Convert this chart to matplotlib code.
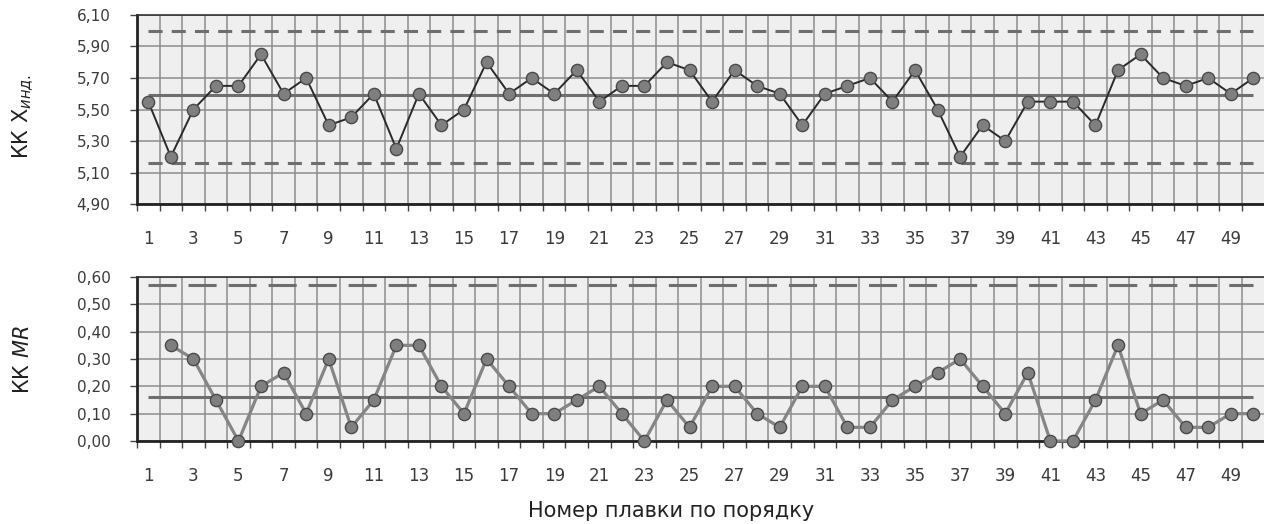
import matplotlib
matplotlib.use("Agg")
import matplotlib.pyplot as plt
import numpy as np

# ---- data ----
melt_no = list(range(1, 51))
x_ind = [5.55, 5.20, 5.50, 5.65, 5.65, 5.85, 5.60, 5.70, 5.40, 5.45,
         5.60, 5.25, 5.60, 5.40, 5.50, 5.80, 5.60, 5.70, 5.60, 5.75,
         5.55, 5.65, 5.65, 5.80, 5.75, 5.55, 5.75, 5.65, 5.60, 5.40,
         5.60, 5.65, 5.70, 5.55, 5.75, 5.50, 5.20, 5.40, 5.30, 5.55,
         5.55, 5.55, 5.40, 5.75, 5.85, 5.70, 5.65, 5.70, 5.60, 5.70]
mr_no = list(range(2, 51))
mr = [0.35, 0.30, 0.15, 0.00, 0.20, 0.25, 0.10, 0.30, 0.05,
      0.15, 0.35, 0.35, 0.20, 0.10, 0.30, 0.20, 0.10, 0.10, 0.15,
      0.20, 0.10, 0.00, 0.15, 0.05, 0.20, 0.20, 0.10, 0.05, 0.20,
      0.20, 0.05, 0.05, 0.15, 0.20, 0.25, 0.30, 0.20, 0.10, 0.25,
      0.00, 0.00, 0.15, 0.35, 0.10, 0.15, 0.05, 0.05, 0.10, 0.10]
x_cl, x_ucl, x_lcl = 5.59, 6.00, 5.16
mr_cl, mr_ucl = 0.16, 0.57
x_yticks = [4.90, 5.10, 5.30, 5.50, 5.70, 5.90, 6.10]
mr_yticks = [0.00, 0.10, 0.20, 0.30, 0.40, 0.50, 0.60]
x_ticklabels = [str(i) for i in range(1, 51, 2)]
ylabel_top = 'КК $\\mathregular{X}_{\\mathit{инд.}}$'
ylabel_bot = 'КК $\\mathit{MR}$'
xlabel = 'Номер плавки по порядку'

plt.rcParams['font.family'] = ['DejaVu Sans']
plt.rcParams['mathtext.fontset'] = 'dejavusans'

W, H = 1264, 524
fig = plt.figure(figsize=(W / 100, H / 100), dpi=100)

def frac_axes(l, t, r, b):
    return fig.add_axes([l / W, 1 - b / H, (r - l) / W, (b - t) / H])

ax1 = frac_axes(137, 15, 1264.6, 204)
ax2 = frac_axes(137, 277, 1264.6, 441)

grid_c = '#8c8c8c'
bg = '#efefef'
txt_c = '#3a3a3a'
lim_c = '#6e6e6e'

def style(ax, yticks, fmt):
    ax.set_facecolor(bg)
    ax.set_xlim(0.5, 50.5)
    ax.set_ylim(yticks[0], yticks[-1])
    ax.set_yticks(yticks)
    ax.set_yticklabels([fmt.format(v).replace('.', ',') for v in yticks])
    ax.set_xticks(list(range(1, 51, 2)))
    ax.set_xticklabels(x_ticklabels)
    ax.set_xticks(np.arange(0.5, 51, 1.0), minor=True)
    ax.tick_params(axis='x', which='major', length=0, pad=19, labelsize=12,
                   labelcolor=txt_c)
    ax.tick_params(axis='x', which='minor', length=5, width=1, color='#444444',
                   direction='out')
    ax.tick_params(axis='y', which='major', length=5, width=1, color='#444444',
                   direction='out', pad=14, labelsize=11, labelcolor=txt_c)
    ax.grid(True, which='minor', axis='x', color=grid_c, lw=1.1, zorder=0)
    ax.grid(True, which='major', axis='y', color=grid_c, lw=1.1, zorder=0)
    ax.grid(False, which='major', axis='x')
    ax.set_axisbelow(True)
    for s in ['left', 'bottom']:
        ax.spines[s].set_linewidth(2.0)
        ax.spines[s].set_color('#222222')
    ax.spines['top'].set_linewidth(1.2)
    ax.spines['top'].set_color('#333333')
    ax.spines['right'].set_visible(False)

style(ax1, x_yticks, '{:.2f}')
style(ax2, mr_yticks, '{:.2f}')

# top chart
ax1.plot([melt_no[0], melt_no[-1]], [x_cl, x_cl], color=lim_c, lw=2.2, zorder=2,
         solid_capstyle='butt')
ax1.plot([melt_no[0], melt_no[-1]], [x_ucl, x_ucl], color=lim_c, lw=2.2, zorder=2,
         dashes=(4.6, 3.0), dash_capstyle='butt')
ax1.plot([melt_no[0], melt_no[-1]], [x_lcl, x_lcl], color=lim_c, lw=2.2, zorder=2,
         dashes=(4.6, 3.0), dash_capstyle='butt')
ax1.plot(melt_no, x_ind, color='#2a2a2a', lw=1.4, marker='o', ms=8.8,
         mfc='#7f7f7f', mec='#4a4a4a', mew=1.0, zorder=3, clip_on=False)

# bottom chart
ax2.plot([melt_no[0], melt_no[-1]], [mr_cl, mr_cl], color=lim_c, lw=2.2, zorder=2,
         solid_capstyle='butt')
ax2.plot([melt_no[0], melt_no[-1]], [mr_ucl, mr_ucl], color=lim_c, lw=2.2, zorder=2,
         dashes=(9.2, 3.9), dash_capstyle='butt')
ax2.plot(mr_no, mr, color='#858585', lw=2.3, marker='o', ms=8.8,
         mfc='#7f7f7f', mec='#4a4a4a', mew=1.0, zorder=3, clip_on=False)

fig.text(23 / W, 1 - 116 / H, ylabel_top, rotation=90, ha='center', va='center',
         fontsize=15, color='#222222')
fig.text(23 / W, 1 - 360 / H, ylabel_bot, rotation=90, ha='center', va='center',
         fontsize=15, color='#222222')
fig.text(671 / W, 1 - 511 / H, xlabel, ha='center', va='center', fontsize=15,
         color='#222222')

fig.savefig('out.png', dpi=100)
